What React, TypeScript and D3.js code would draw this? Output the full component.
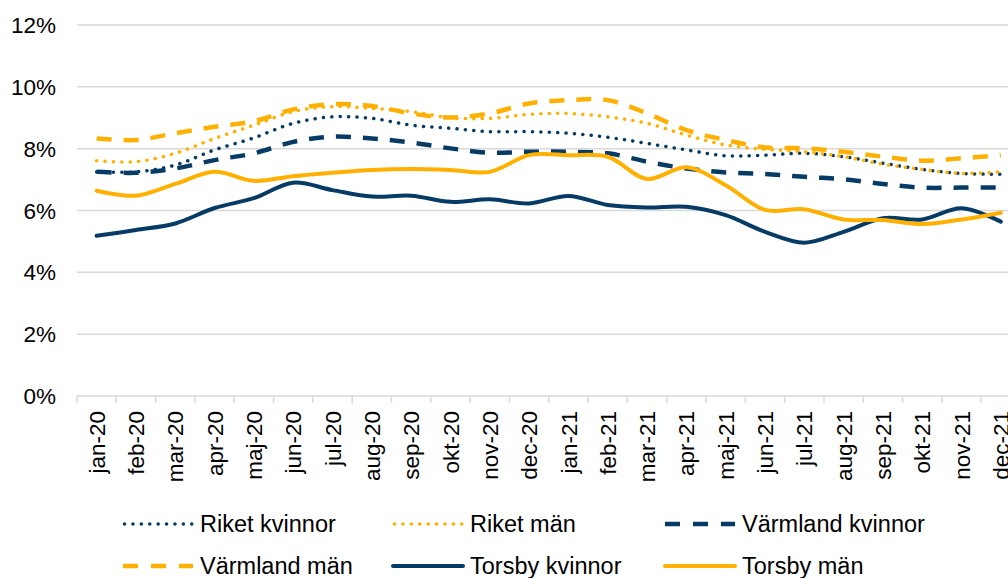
import React, { useEffect, useRef } from 'react';
import * as d3 from 'd3';

const months = [
  'jan-20', 'feb-20', 'mar-20', 'apr-20', 'maj-20', 'jun-20', 'jul-20', 'aug-20', 'sep-20', 'okt-20', 'nov-20', 'dec-20',
  'jan-21', 'feb-21', 'mar-21', 'apr-21', 'maj-21', 'jun-21', 'jul-21', 'aug-21', 'sep-21', 'okt-21', 'nov-21', 'dec-21',
];

const yTicks = [0, 2, 4, 6, 8, 10, 12];

// values in percent
const riketKvinnor = [7.25, 7.25, 7.47, 7.96, 8.35, 8.82, 9.03, 8.98, 8.76, 8.66, 8.55, 8.55, 8.5, 8.37, 8.17, 7.96, 7.77, 7.79, 7.85, 7.74, 7.53, 7.33, 7.2, 7.17];
const riketMan = [7.61, 7.58, 7.85, 8.33, 8.76, 9.2, 9.36, 9.3, 9.2, 9.0, 8.98, 9.11, 9.14, 9.03, 8.82, 8.44, 8.12, 7.98, 7.9, 7.74, 7.5, 7.33, 7.2, 7.25];
const varmlandKvinnor = [7.25, 7.22, 7.36, 7.63, 7.85, 8.22, 8.39, 8.33, 8.2, 8.01, 7.87, 7.9, 7.9, 7.85, 7.58, 7.36, 7.23, 7.18, 7.09, 7.01, 6.86, 6.74, 6.74, 6.74];
const varmlandMan = [8.33, 8.28, 8.5, 8.71, 8.89, 9.27, 9.44, 9.38, 9.14, 9.01, 9.14, 9.46, 9.57, 9.57, 9.14, 8.6, 8.28, 8.04, 8.01, 7.9, 7.74, 7.61, 7.69, 7.79];
const torsbyKvinnor = [5.18, 5.37, 5.58, 6.08, 6.4, 6.9, 6.66, 6.45, 6.48, 6.28, 6.36, 6.23, 6.47, 6.18, 6.1, 6.12, 5.85, 5.31, 4.96, 5.31, 5.75, 5.71, 6.07, 5.64];
const torsbyMan = [6.64, 6.48, 6.86, 7.25, 6.96, 7.11, 7.22, 7.31, 7.34, 7.31, 7.25, 7.79, 7.79, 7.74, 7.02, 7.4, 6.82, 6.02, 6.04, 5.71, 5.69, 5.56, 5.71, 5.93];

const NAVY = '#063b66';
const GOLD = '#ffb000';

const series = [
  { name: 'Riket kvinnor', values: riketKvinnor, color: NAVY, style: 'dot' },
  { name: 'Riket män', values: riketMan, color: GOLD, style: 'dot' },
  { name: 'Värmland kvinnor', values: varmlandKvinnor, color: NAVY, style: 'dash' },
  { name: 'Värmland män', values: varmlandMan, color: GOLD, style: 'dash' },
  { name: 'Torsby kvinnor', values: torsbyKvinnor, color: NAVY, style: 'solid' },
  { name: 'Torsby män', values: torsbyMan, color: GOLD, style: 'solid' },
];

const strokeProps = (style: string) => {
  if (style === 'dot') return { width: 3.5, dash: '0.1 8.3', cap: 'round' };
  if (style === 'dash') return { width: 4.5, dash: '15 12', cap: 'butt' };
  return { width: 4, dash: null, cap: 'round' };
};

const App = () => {
  const svgRef = useRef<SVGSVGElement | null>(null);

  useEffect(() => {
    const width = 1008;
    const height = 578;
    const margin = { left: 77, top: 25 };
    const plotW = 943.5;
    const plotH = 371;
    const font = '"Liberation Sans", Arial, sans-serif';

    const svg = d3.select(svgRef.current);
    svg.selectAll('*').remove();
    svg.attr('width', width).attr('height', height);

    const x = d3.scaleBand().domain(months).range([margin.left, margin.left + plotW]).padding(0);
    const y = d3.scaleLinear().domain([0, 12]).range([margin.top + plotH, margin.top]);

    // gridlines
    svg.append('g')
      .selectAll('line')
      .data(yTicks)
      .enter()
      .append('line')
      .attr('x1', margin.left)
      .attr('x2', margin.left + plotW)
      .attr('y1', d => y(d))
      .attr('y2', d => y(d))
      .attr('stroke', '#d9d9d9')
      .attr('stroke-width', 1.5);

    // y labels
    svg.append('g')
      .selectAll('text')
      .data(yTicks)
      .enter()
      .append('text')
      .attr('x', 56)
      .attr('y', d => y(d))
      .attr('dy', '0.36em')
      .attr('text-anchor', 'end')
      .attr('font-family', font)
      .attr('font-size', 22.5)
      .attr('fill', '#000')
      .text(d => `${d}%`);

    // x axis tick marks
    const tickPos = months.map(m => x(m) as number).concat([margin.left + plotW]);
    svg.append('g')
      .selectAll('line')
      .data(tickPos)
      .enter()
      .append('line')
      .attr('x1', d => d)
      .attr('x2', d => d)
      .attr('y1', y(0))
      .attr('y2', y(0) + 7)
      .attr('stroke', '#d9d9d9')
      .attr('stroke-width', 1.5);

    // x labels
    svg.append('g')
      .selectAll('text')
      .data(months)
      .enter()
      .append('text')
      .attr('transform', d => `translate(${(x(d) as number) + x.bandwidth() / 2},411) rotate(-90)`)
      .attr('dy', '0.36em')
      .attr('text-anchor', 'end')
      .attr('font-family', font)
      .attr('font-size', 22.5)
      .attr('fill', '#000')
      .text(d => d);

    const line = d3.line<number>()
      .x((_, i) => (x(months[i]) as number) + x.bandwidth() / 2)
      .y(d => y(d))
      .curve(d3.curveCatmullRom.alpha(0.5));

    series.forEach(s => {
      const sp = strokeProps(s.style);
      const p = svg.append('path')
        .datum(s.values)
        .attr('fill', 'none')
        .attr('stroke', s.color)
        .attr('stroke-width', sp.width)
        .attr('stroke-linecap', sp.cap)
        .attr('stroke-linejoin', 'round')
        .attr('d', line);
      if (sp.dash) p.attr('stroke-dasharray', sp.dash);
    });

    // legend
    const legendCols = [123, 393, 665];
    const legendRows = [524, 566];
    const legend = svg.append('g');
    series.forEach((s, i) => {
      const lx = legendCols[i % 3];
      const ly = legendRows[Math.floor(i / 3)];
      const sp = strokeProps(s.style);
      const l = legend.append('line')
        .attr('x1', lx + (s.style === 'dot' ? 1.5 : 0))
        .attr('x2', lx + 70)
        .attr('y1', ly)
        .attr('y2', ly)
        .attr('stroke', s.color)
        .attr('stroke-width', sp.width)
        .attr('stroke-linecap', sp.cap);
      if (sp.dash) l.attr('stroke-dasharray', s.style === 'dash' ? '15 13' : sp.dash);
      legend.append('text')
        .attr('x', lx + 77)
        .attr('y', ly)
        .attr('dy', '0.36em')
        .attr('font-family', font)
        .attr('font-size', 23.5)
        .attr('fill', '#000')
        .text(s.name);
    });
  }, []);

  return (
    <div style={{ position: 'absolute', left: 0, top: 0 }}>
      <svg ref={svgRef} style={{ display: 'block' }}></svg>
    </div>
  );
};

export default App;
